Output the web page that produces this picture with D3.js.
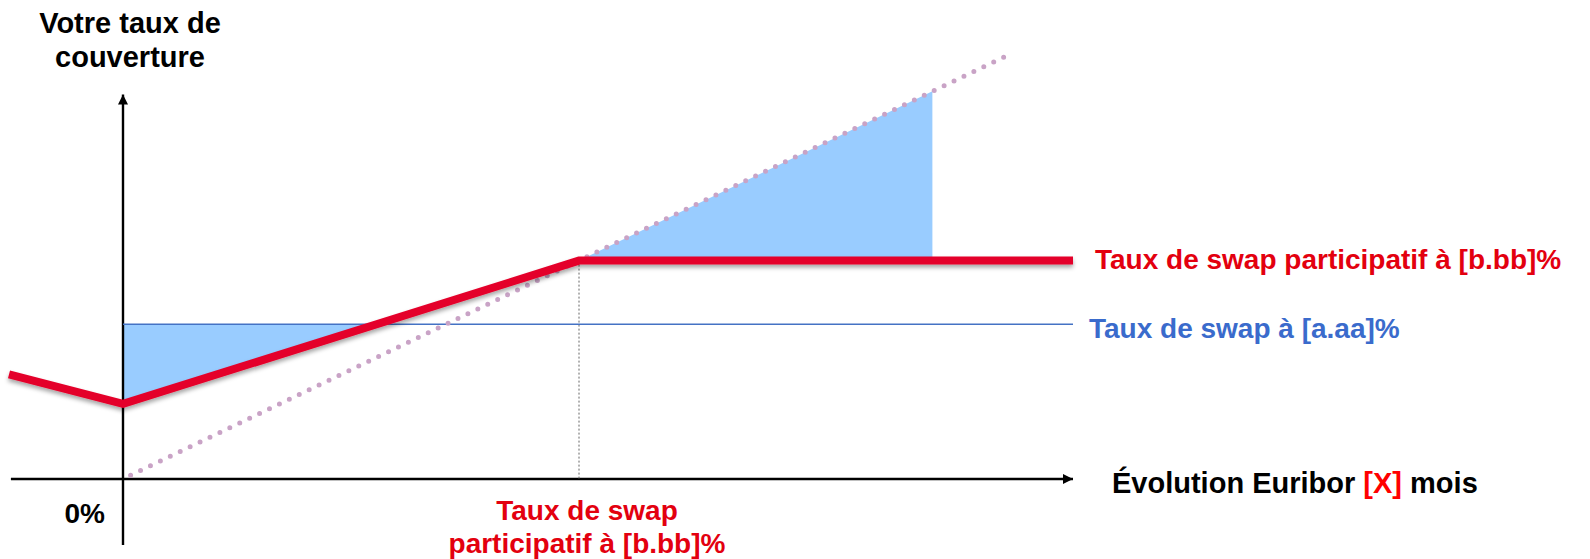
<!DOCTYPE html>
<html><head><meta charset="utf-8">
<script src="https://cdn.jsdelivr.net/npm/d3@7"></script>
<style>html,body{margin:0;padding:0;background:#fff;}svg{display:block;font-family:"Liberation Sans",Arial,sans-serif;font-weight:bold;}</style>
</head><body>
<svg id="c" width="1590" height="559"></svg>
<script>
// Conceptual data (x = Euribor level, y = coverage rate)
const swapRate = 3.4;            // Taux de swap à [a.aa]%
const participRate = 4.8;        // Taux de swap participatif à [b.bb]%
const redLine = [[-1.2, 2.3], [0, 1.65], [4.8, 4.8], [10, 4.8]];
const diagonal = [[0.08, 0.08], [9.27, 9.27]];
const fillLow = [[0, 3.4], [0, 1.65], [2.67, 3.4]];
const fillHigh = [[4.8, 4.8], [8.52, 8.52], [8.52, 4.8]];
const xAxisExtent = [-1.18, 10];
const yAxisExtent = [-1.45, 8.45];
const titleLines = ["Votre taux de", "couverture"];
const bottomLines = ["Taux de swap", "participatif à [b.bb]%"];

const svg = d3.select("#c");
const x = d3.scaleLinear().domain([0, 10]).range([123, 1073]);
const y = d3.scaleLinear().domain([0, 10]).range([479, 24]);

const defs = svg.append("defs");
defs.append("marker").attr("id", "arr").attr("viewBox", "0 0 10 10")
  .attr("refX", 10).attr("refY", 5).attr("markerWidth", 4.2).attr("markerHeight", 4.2)
  .attr("markerUnits", "strokeWidth").attr("orient", "auto")
  .append("path").attr("d", "M0,0L10,5L0,10z").attr("fill", "#000");
const f = defs.append("filter").attr("id", "sh").attr("x", "-5%").attr("y", "-50%").attr("width", "110%").attr("height", "200%");
f.append("feDropShadow").attr("dx", 0).attr("dy", 3).attr("stdDeviation", 2)
  .attr("flood-color", "#000").attr("flood-opacity", 0.35);

const line = d3.line().x(d => x(d[0])).y(d => y(d[1]));

// shaded areas
svg.append("path").attr("d", line(fillLow) + "Z").attr("fill", "#99ccff");
svg.append("path").attr("d", line(fillHigh) + "Z").attr("fill", "#99ccff");

// axes
svg.append("line").attr("x1", x(0)).attr("x2", x(0)).attr("y1", y(yAxisExtent[0])).attr("y2", y(yAxisExtent[1]))
  .attr("stroke", "#000").attr("stroke-width", 2.4).attr("marker-end", "url(#arr)");
svg.append("line").attr("x1", x(xAxisExtent[0])).attr("x2", x(xAxisExtent[1])).attr("y1", y(0)).attr("y2", y(0))
  .attr("stroke", "#000").attr("stroke-width", 2.4).attr("marker-end", "url(#arr)");

// vertical dotted reference
svg.append("line").attr("x1", x(participRate)).attr("x2", x(participRate))
  .attr("y1", y(participRate)).attr("y2", y(0))
  .attr("stroke", "#666").attr("stroke-width", 1).attr("stroke-dasharray", "2,2");

// blue swap line
svg.append("line").attr("x1", x(0)).attr("x2", x(10)).attr("y1", y(swapRate)).attr("y2", y(swapRate))
  .attr("stroke", "#4472c4").attr("stroke-width", 1.6);

// diagonal dotted
svg.append("path").attr("d", line(diagonal)).attr("fill", "none")
  .attr("stroke", "#c9a3c6").attr("stroke-width", 5).attr("stroke-linecap", "round")
  .attr("stroke-dasharray", "0,11");

// red participatif line
svg.append("path").attr("d", line(redLine)).attr("fill", "none")
  .attr("stroke", "#e4002b").attr("stroke-width", 8).attr("filter", "url(#sh)");

// texts
svg.append("text").attr("x", 130).attr("y", 33).attr("text-anchor", "middle").attr("font-size", 29)
  .selectAll("tspan").data(titleLines).join("tspan").attr("x", 130).attr("dy", (d, i) => i ? 34 : 0).text(d => d);
svg.append("text").attr("x", 105).attr("y", 523).attr("text-anchor", "end").attr("font-size", 28).text("0%");

const xl = svg.append("text").attr("x", 1112).attr("y", 493).attr("font-size", 29);
xl.append("tspan").text("Évolution Euribor ");
xl.append("tspan").attr("fill", "#ff0000").text("[X]");
xl.append("tspan").text(" mois");

svg.append("text").attr("x", 1095).attr("y", 269).attr("font-size", 28).attr("fill", "#e3000f")
  .text("Taux de swap participatif à [b.bb]%");
svg.append("text").attr("x", 1089).attr("y", 338).attr("font-size", 28).attr("fill", "#3a6bcc")
  .text("Taux de swap à [a.aa]%");

svg.append("text").attr("y", 520).attr("text-anchor", "middle").attr("font-size", 28).attr("fill", "#e3000f")
  .selectAll("tspan").data(bottomLines).join("tspan").attr("x", x(participRate) + 8).attr("dy", (d, i) => i ? 33 : 0).text(d => d);
</script>
</body></html>
